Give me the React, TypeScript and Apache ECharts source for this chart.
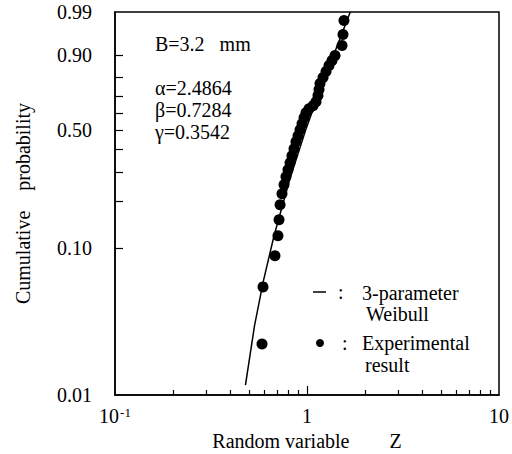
import React, { useEffect, useRef } from "react";
import * as echarts from "echarts";

// Experimental result (random variable Z, cumulative probability F)
const zValues = [0.583, 0.59, 0.681, 0.706, 0.715, 0.724, 0.741, 0.759, 0.777, 0.796, 0.816, 0.835, 0.856, 0.876, 0.898, 0.92, 0.942, 0.965, 0.988, 1.024, 1.075, 1.114, 1.141, 1.155, 1.169, 1.212, 1.256, 1.302, 1.35, 1.399, 1.522, 1.54, 1.558];
const probValues = [0.0225, 0.0551, 0.089, 0.1205, 0.1528, 0.1902, 0.2225, 0.2521, 0.2812, 0.3089, 0.3385, 0.3701, 0.4039, 0.4394, 0.4711, 0.504, 0.5378, 0.5724, 0.6016, 0.6251, 0.6428, 0.6663, 0.7016, 0.7358, 0.769, 0.8007, 0.8306, 0.8583, 0.8796, 0.8991, 0.9322, 0.9597, 0.982];

// 3-parameter Weibull line
const lineZ = [0.478, 0.533, 0.592, 0.673, 0.812, 0.983, 1.185, 1.412, 1.68];
const lineProb = [0.0117, 0.03, 0.06, 0.12, 0.27, 0.5, 0.75, 0.92, 0.99];

// Axis ticks and labels
const yLabelProbs = [0.01, 0.1, 0.5, 0.9, 0.99];
const yLabelTexts = ["0.01", "0.10", "0.50", "0.90", "0.99"];
const yTickProbs = [0.1, 0.2, 0.3, 0.4, 0.5, 0.6, 0.7, 0.8, 0.9];
const xLabelZ = [0.1, 1, 10];
const xLabelTexts = ["10^-1", "1", "10"];
const xMinorTickZ = [0.2, 0.3, 0.4, 0.5, 0.6, 0.7, 0.8, 0.9, 2, 3, 4, 5, 6, 7, 8, 9];
const xMajorTickZ = [1];

const xAxisName = "Random variable        Z";
const yAxisName = "Cumulative    probability";
const paramTexts = ["B=3.2   mm", "\u03b1=2.4864", "\u03b2=0.7284", "\u03b3=0.3542"];
const legendTexts = ["3-parameter", "Weibull", "Experimental", "result"];

const FONT = "Liberation Serif";
const wb = (p: number) => Math.log(-Math.log(1 - p));
const lg = (z: number) => Math.log10(z);

export default function App() {
  const ref = useRef<HTMLDivElement>(null);
  useEffect(() => {
    if (!ref.current) return;
    const chart = echarts.init(ref.current, null, { renderer: "svg" });
    const yMin = wb(0.01);
    const yMax = wb(0.99);
    const near = (a: number, b: number) => Math.abs(a - b) < 1e-6;
    const xRich = (t: string) => {
      if (t.includes("^")) {
        const [b, s] = t.split("^");
        return `{b|${b}}{s|${s}}`;
      }
      return `{b|${t}}`;
    };
    const txt = (text: string, x: number, y: number, align = "left") => ({
      type: "text",
      x,
      y,
      style: { text, fontFamily: FONT, fontSize: 20, fill: "#000", verticalAlign: "middle", align },
    });
    chart.setOption({
      animation: false,
      backgroundColor: "#fff",
      textStyle: { fontFamily: FONT },
      grid: {
        left: 115,
        top: 12,
        width: 384,
        height: 383,
        show: true,
        borderColor: "#000",
        borderWidth: 1.5,
        outerBoundsMode: "none",
      },
      xAxis: [
        {
          type: "value",
          min: -1,
          max: 1,
          axisLine: { show: true, onZero: false, lineStyle: { color: "#000", width: 1.5 } },
          axisTick: {
            show: true,
            inside: true,
            length: 5,
            customValues: xMinorTickZ.map(lg),
            lineStyle: { color: "#000", width: 1.2 },
          },
          axisLabel: {
            show: true,
            margin: 11,
            customValues: xLabelZ.map(lg),
            formatter: (v: number) => {
              const i = xLabelZ.findIndex((z) => near(lg(z), v));
              return i >= 0 ? xRich(xLabelTexts[i]) : "";
            },
            rich: {
              b: { fontFamily: FONT, fontSize: 20, color: "#000", lineHeight: 20, verticalAlign: "bottom" },
              s: { fontFamily: FONT, fontSize: 13, color: "#000", lineHeight: 20, verticalAlign: "top", padding: [0, 0, 10, 1] },
            },
          },
          splitLine: { show: false },
        },
        {
          type: "value",
          min: -1,
          max: 1,
          position: "bottom",
          axisLine: { show: false, onZero: false },
          axisTick: {
            show: true,
            inside: true,
            length: 9,
            customValues: xMajorTickZ.map(lg),
            lineStyle: { color: "#000", width: 1.2 },
          },
          axisLabel: { show: false },
          splitLine: { show: false },
        },
      ],
      yAxis: {
        type: "value",
        min: yMin,
        max: yMax,
        name: yAxisName,
        nameLocation: "middle",
        nameGap: 82,
        nameTextStyle: { fontFamily: FONT, fontSize: 20, color: "#000" },
        axisLine: { show: true, onZero: false, lineStyle: { color: "#000", width: 1.5 } },
        axisTick: {
          show: true,
          inside: true,
          length: 8,
          customValues: yTickProbs.map(wb),
          lineStyle: { color: "#000", width: 1.2 },
        },
        axisLabel: {
          show: true,
          margin: 23,
          fontFamily: FONT,
          fontSize: 20,
          color: "#000",
          customValues: yLabelProbs.map(wb),
          formatter: (v: number) => {
            const i = yLabelProbs.findIndex((p) => near(wb(p), v));
            return i >= 0 ? yLabelTexts[i] : "";
          },
        },
        splitLine: { show: false },
      },
      series: [
        {
          type: "line",
          xAxisIndex: 0,
          data: lineZ.map((z, i) => [lg(z), wb(lineProb[i])]),
          showSymbol: false,
          symbol: "none",
          smooth: false,
          lineStyle: { color: "#000", width: 1.5 },
          z: 2,
        },
        {
          type: "scatter",
          xAxisIndex: 0,
          data: zValues.map((z, i) => [lg(z), wb(probValues[i])]),
          symbol: "circle",
          symbolSize: 11,
          itemStyle: { color: "#000", opacity: 1 },
          z: 3,
        },
      ],
      graphic: [
        txt(xAxisName, 307, 441, "center"),
        txt(paramTexts[0], 155, 44),
        txt(paramTexts[1], 155, 88),
        txt(paramTexts[2], 155, 110),
        txt(paramTexts[3], 155, 132),
        { type: "line", shape: { x1: 313, y1: 292, x2: 326, y2: 292 }, style: { stroke: "#000", lineWidth: 1.5 } },
        txt(":", 338, 292),
        txt(legendTexts[0], 362, 293),
        txt(legendTexts[1], 366, 314),
        { type: "circle", shape: { cx: 320, cy: 343, r: 4 }, style: { fill: "#000" } },
        txt(":", 342, 343),
        txt(legendTexts[2], 362, 343),
        txt(legendTexts[3], 365, 365),
      ],
    });
    return () => chart.dispose();
  }, []);
  return (
    <div
      ref={ref}
      style={{ position: "absolute", left: 0, top: 0, width: 512, height: 454, background: "#fff" }}
    />
  );
}
